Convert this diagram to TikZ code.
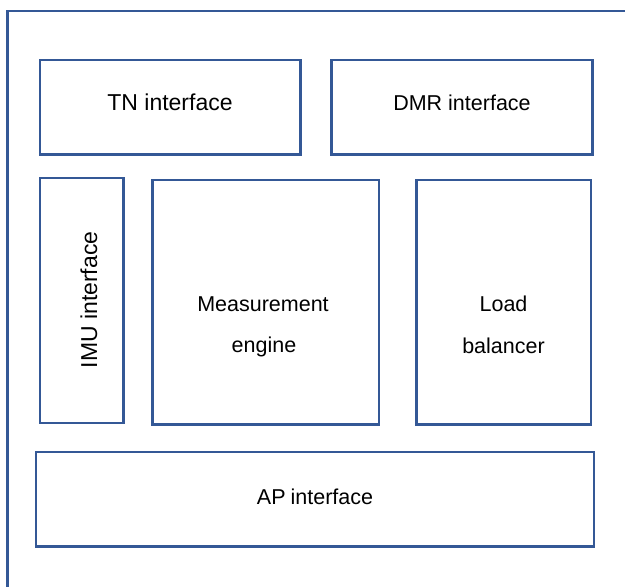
\documentclass[tikz,border=0pt]{standalone}
\usepackage{fontspec}
\setmainfont{Liberation Sans}
\definecolor{boxblue}{RGB}{52,88,150}
\begin{document}
\begin{tikzpicture}[x=1bp,y=-1bp,
  blk/.style={draw=boxblue,line width=2.6bp},
  lbl/.style={font=\fontsize{21.5bp}{25bp}\selectfont,anchor=base,inner sep=0pt},
  biglbl/.style={lbl,font=\fontsize{23bp}{27bp}\selectfont}]
\useasboundingbox (0,0) rectangle (625,587);
\fill[white] (0,0) rectangle (625,587);
% outer frame
\draw[blk] (7.5,640) -- (7.5,11) -- (640,11);
% boxes
\draw[blk] (40,60) rectangle (300.5,154.5);
\node[biglbl] (tn) at (170,111) {TN interface};
\draw[blk] (331.5,60) rectangle (592.5,154.5);
\node[lbl] (dmr) at (462,111) {DMR interface};
\draw[blk] (40,178) rectangle (123.5,423);
\node[biglbl,rotate=90] (imu) at (97,300) {IMU interface};
\draw[blk] (152.5,180) rectangle (379,424.5);
\node[lbl] (me1) at (263,311.5) {Measurement};
\node[lbl] (me2) at (264,352.5) {engine};
\draw[blk] (416.5,180) rectangle (591,424.5);
\node[lbl] (lb1) at (503.5,311) {Load};
\node[lbl] (lb2) at (503.5,353) {balancer};
\draw[blk] (36,452) rectangle (594,546.5);
\node[lbl] (ap) at (315,504) {AP\kern-1bp\ interface};
\end{tikzpicture}
\end{document}
